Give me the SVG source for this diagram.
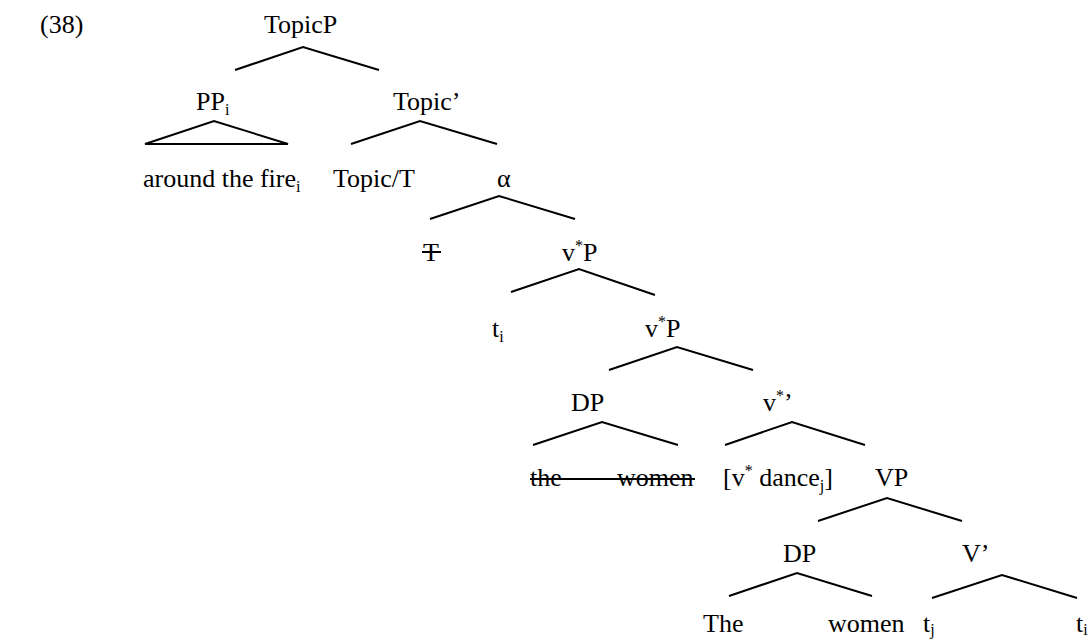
<svg xmlns="http://www.w3.org/2000/svg" width="1091" height="639" viewBox="0 0 1091 639">
  <style>
    text { font-family: "Liberation Serif", "Times New Roman", serif; font-size: 26px; fill: #000; }
    .sub { font-size: 16px; }
    .sup { font-size: 16px; }
    .edge { fill: none; stroke: #000; stroke-width: 2; stroke-linejoin: miter; }
    .strike { stroke: #000; stroke-width: 2; }
  </style>
  <rect width="1091" height="639" fill="#fff"/>

  <text id="example-number" x="40" y="33">(38)</text>

  <!-- branches -->
  <g id="connectors">
    <polyline class="edge" points="235,70 303,47 379,70"/>
    <polygon class="edge" points="145,144 214,121 288,144"/>
    <polyline class="edge" points="351,144 420,121 497,144"/>
    <polyline class="edge" points="430,219 499,196 575,219"/>
    <polyline class="edge" points="511,292 579,269 655,295"/>
    <polyline class="edge" points="609,370 677,347 753,370"/>
    <polyline class="edge" points="533,445 602,422 678,445"/>
    <polyline class="edge" points="725,445 792,422 865,445"/>
    <polyline class="edge" points="818,521 887,498 962,521"/>
    <polyline class="edge" points="729,596 797,573 872,596"/>
    <polyline class="edge" points="932,598 1002,575 1077,598"/>
  </g>

  <g id="n-topicp"><text x="264" y="33">TopicP</text></g>
  <g id="n-pp"><text x="196" y="110">PP<tspan class="sub" dy="5">i</tspan></text></g>
  <g id="n-topicbar"><text x="393" y="110">Topic’</text></g>
  <g id="n-fire"><text x="143" y="187">around the fire<tspan class="sub" dy="5">i</tspan></text></g>
  <g id="n-topict"><text x="333" y="187">Topic/T</text></g>
  <g id="n-alpha"><text x="497" y="187">α</text></g>
  <g id="n-t">
    <text x="423" y="261">T</text>
    <line class="strike" x1="422" y1="252" x2="441" y2="252"/>
  </g>
  <g id="n-vstarp1"><text x="562" y="261">v<tspan class="sup" dy="-10">*</tspan><tspan dy="10">P</tspan></text></g>
  <g id="n-ti"><text x="492" y="337">t<tspan class="sub" dy="5">i</tspan></text></g>
  <g id="n-vstarp2"><text x="645" y="337">v<tspan class="sup" dy="-10">*</tspan><tspan dy="10">P</tspan></text></g>
  <g id="n-dp1"><text x="571" y="411">DP</text></g>
  <g id="n-vstarbar"><text x="763" y="411">v<tspan class="sup" dy="-10">*</tspan><tspan dy="10">’</tspan></text></g>
  <g id="n-thewomen1">
    <text x="530" y="486">the</text>
    <text x="617" y="486">women</text>
    <line class="strike" x1="530" y1="479" x2="695" y2="479"/>
  </g>
  <g id="n-vdance"><text x="723" y="486">[v<tspan class="sup" dy="-10">*</tspan><tspan dy="10"> dance</tspan><tspan class="sub" dy="5">j</tspan><tspan dy="-5">]</tspan></text></g>
  <g id="n-vp"><text x="875" y="486">VP</text></g>
  <g id="n-dp2"><text x="783" y="562">DP</text></g>
  <g id="n-vbar"><text x="962" y="562">V’</text></g>
  <g id="n-the"><text x="703" y="632">The</text></g>
  <g id="n-women"><text x="828" y="632">women</text></g>
  <g id="n-tj"><text x="923" y="632">t<tspan class="sub" dy="3">j</tspan></text></g>
  <g id="n-ti2"><text x="1076" y="632">t<tspan class="sub" dy="3">i</tspan></text></g>
</svg>
